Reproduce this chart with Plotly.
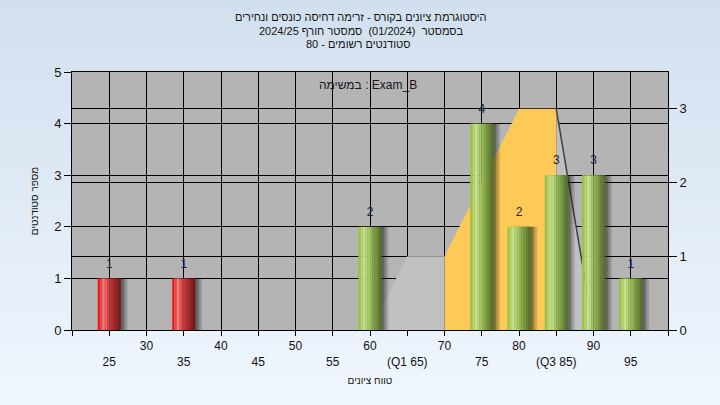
import plotly.graph_objects as go

# ---------------- data ----------------
scores = [25, 35, 60, 75, 80, 85, 90, 95]
counts = [1, 1, 2, 4, 2, 3, 3, 1]
status = ["fail", "fail", "pass", "pass", "pass", "pass", "pass", "pass"]

tick_vals = [20, 25, 30, 35, 40, 45, 50, 55, 60, 65, 70, 75, 80, 85, 90, 95, 100]
tick_text = ["", " <br>25", "30", " <br>35", "40", " <br>45", "50", " <br>55", "60",
             " <br>(Q1 65)", "70", " <br>75", "80", " <br>(Q3 85)", "90", " <br>95", ""]

# background distribution areas (right axis units)
low_area_x = [60, 65, 70, 70]
low_area_y = [0, 1, 1, 0]
iqr_area_x = [70, 70, 80, 85, 85]
iqr_area_y = [0, 1, 3, 3, 0]
high_area_x = [85, 85, 90]
high_area_y = [0, 3, 0]
edge_line_x = [85, 90]
edge_line_y = [3, 0]

title_lines = [
    "היסטוגרמת ציונים בקורס - זרימה דחיסה כונסים ונחירים",
    "בסמסטר  (01/2024)  סמסטר חורף 2024/25",
    "סטודנטים רשומים - 80",
]
task_label = "במשימה : Exam_B"
y_title = "מספר סטודנטים"
x_title = "טווח ציונים"

# ---------------- styling ----------------
FONT = "Liberation Sans"
bar_w = 3.1
n_slices = 10
green_grad = ["#9cc24a", "#b2d468", "#c6e28e", "#bad87c", "#a6c664",
              "#96b656", "#86a64a", "#769540", "#668436", "#56722c"]
red_grad = ["#e81c1c", "#f24646", "#f27c7c", "#e85c5c", "#d64444",
            "#c63636", "#b02c2c", "#9a2424", "#861e1e", "#721a1a"]

fig = go.Figure()

# areas on the right axis (main subplot x/y2, drawn beneath the bars)
fig.add_trace(go.Scatter(x=low_area_x, y=low_area_y, yaxis="y2", fill="toself",
                         fillcolor="#c0c0c0", line=dict(width=0), mode="lines",
                         hoverinfo="skip", showlegend=False))
fig.add_trace(go.Scatter(x=high_area_x, y=high_area_y, yaxis="y2", fill="toself",
                         fillcolor="#c0c0c0", line=dict(width=0), mode="lines",
                         hoverinfo="skip", showlegend=False))
fig.add_trace(go.Scatter(x=iqr_area_x, y=iqr_area_y, yaxis="y2", fill="toself",
                         fillcolor="#fdca57", line=dict(width=0), mode="lines",
                         hoverinfo="skip", showlegend=False))
fig.add_trace(go.Scatter(x=edge_line_x, y=edge_line_y, yaxis="y2", mode="lines",
                         line=dict(color="#404040", width=1.5),
                         hoverinfo="skip", showlegend=False))

# shadows
for off, alpha in [(0.9, 0.18), (0.6, 0.22), (0.35, 0.28)]:
    fig.add_trace(go.Bar(x=scores, y=counts, yaxis="y", width=bar_w,
                         offset=-bar_w / 2 + off,
                         marker=dict(color=f"rgba(30,30,30,{alpha})", line=dict(width=0)),
                         hoverinfo="skip", showlegend=False))

# gradient bar slices
sw = bar_w / n_slices
for i in range(n_slices):
    cols = [red_grad[i] if s == "fail" else green_grad[i] for s in status]
    fig.add_trace(go.Bar(x=scores, y=counts, yaxis="y", width=sw * 1.03,
                         offset=-bar_w / 2 + i * sw,
                         marker=dict(color=cols, line=dict(width=0)),
                         hoverinfo="skip", showlegend=False))

# value labels
fig.add_trace(go.Scatter(x=scores, y=counts, yaxis="y", mode="markers+text",
                         text=[str(c) for c in counts], textposition="top center",
                         marker=dict(size=11, color="rgba(0,0,0,0)"),
                         textfont=dict(family=FONT, size=12, color="#1c2444"),
                         hoverinfo="skip", showlegend=False))

# background gradient + plot background
L, R, T, B = 72, 52, 72, 75
W, H = 720, 405
pw, ph = W - L - R, H - T - B


def px_x(px):
    return (px - L) / pw


def px_y(py):
    return (H - B - py) / ph


shapes = []
n_str = 40
top = (0xd2, 0xdf, 0xee)
bot = (0xef, 0xf6, 0xfe)
for i in range(n_str):
    f = i / (n_str - 1)
    c = tuple(round(top[j] + (bot[j] - top[j]) * f) for j in range(3))
    py0 = i * H / n_str
    py1 = (i + 1) * H / n_str + 1
    shapes.append(dict(type="rect", xref="paper", yref="paper", layer="below",
                       x0=px_x(0), x1=px_x(W), y0=px_y(py1), y1=px_y(py0),
                       fillcolor="rgb(%d,%d,%d)" % c, line=dict(width=0)))
shapes.append(dict(type="rect", xref="paper", yref="paper", layer="below",
                   x0=0, x1=1, y0=0, y1=1, fillcolor="#b4b4b4", line=dict(width=0)))

TF = dict(family=FONT, size=11, color="#141414")
annotations = []
for (txt, cx, cy) in zip(title_lines, [361, 361, 358], [17, 31, 44]):
    annotations.append(dict(text=txt, xref="paper", yref="paper", x=px_x(cx), y=px_y(cy),
                            xanchor="center", yanchor="middle", showarrow=False, font=TF))
annotations.append(dict(text=task_label, xref="paper", yref="paper", x=px_x(368), y=px_y(85),
                        xanchor="center", yanchor="middle", showarrow=False,
                        font=dict(family=FONT, size=12, color="#201020")))

axis_common = dict(showline=True, linecolor="black", linewidth=1,
                   ticks="outside", tickcolor="black", gridcolor="black",
                   gridwidth=1, zeroline=False)
tickfont = dict(family=FONT, size=12, color="#111111")
ytickfont = dict(family=FONT, size=13, color="#111111")
atitle_font = dict(family=FONT, size=10, color="#141414")

fig.update_layout(
    width=W, height=H,
    margin=dict(l=L, r=R, t=T, b=B, autoexpand=False),
    paper_bgcolor="#e4edf7",
    plot_bgcolor="rgba(0,0,0,0)",
    barmode="overlay",
    showlegend=False,
    shapes=shapes,
    annotations=annotations,
    xaxis=dict(range=[20, 100], tickmode="array", tickvals=tick_vals, ticktext=tick_text,
               ticklen=5, mirror=True, showgrid=True, tickfont=tickfont,
               title=dict(text=x_title, standoff=8, font=atitle_font),
               **axis_common),
    yaxis=dict(range=[0, 5], tickmode="linear", dtick=1, tick0=0, side="left",
               overlaying="y2", ticklen=7, showgrid=True, tickfont=ytickfont,
               title=dict(text=y_title, standoff=13, font=atitle_font),
               **axis_common),
    yaxis2=dict(range=[0, 3.5], tickmode="array", tickvals=[0, 1, 2, 3], side="right",
                anchor="x", ticklen=8, showgrid=True, tickfont=ytickfont,
                **axis_common),
)

fig.write_html("out.html", config={"displayModeBar": False},
               post_script="document.body.style.margin='0';document.body.style.background='#eff6fe';")
